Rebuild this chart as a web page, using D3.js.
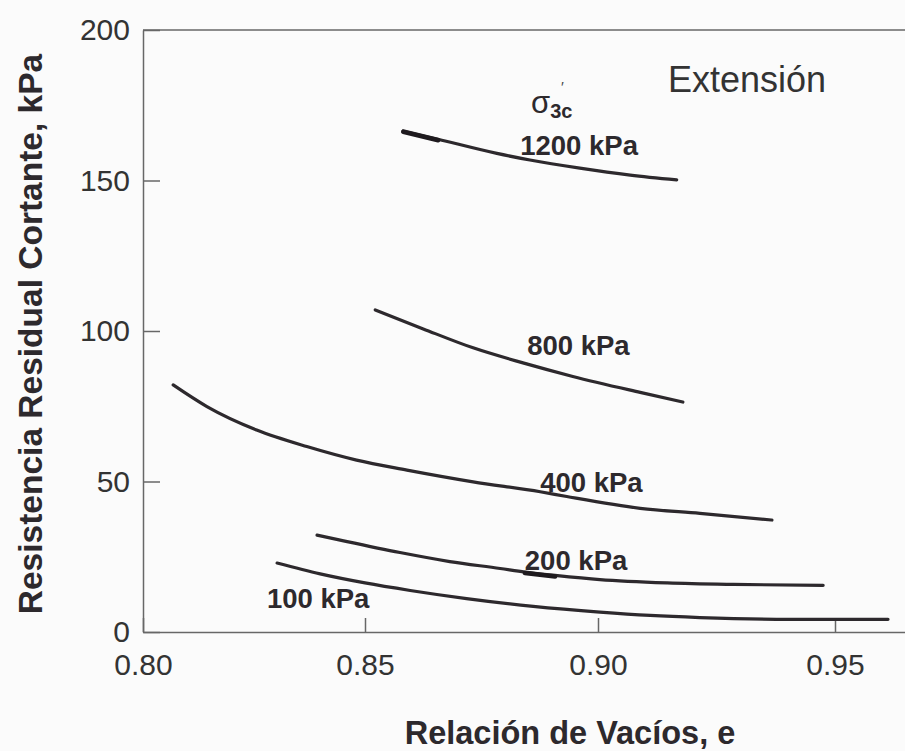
<!DOCTYPE html>
<html>
<head>
<meta charset="utf-8">
<script src="https://cdn.jsdelivr.net/npm/d3@7"></script>
<style>
  html, body { margin: 0; padding: 0; background: #fbfbfb; }
  svg { display: block; }
</style>
</head>
<body>
<svg id="chart" width="905" height="751"></svg>
<script>
// ---- data ----
const xTicks = [0.80, 0.85, 0.90, 0.95];
const yTicks = [0, 50, 100, 150, 200];
const xTickLabels = ["0.80", "0.85", "0.90", "0.95"];
const yTickLabels = ["0", "50", "100", "150", "200"];

const seriesNames = ["1200 kPa", "800 kPa", "400 kPa", "200 kPa", "100 kPa"];

const e1200 = [0.8582, 0.8657, 0.8783, 0.8854, 0.8961, 0.9068, 0.9166];
const v1200 = [166.5, 163.7, 159.0, 156.8, 154.1, 151.8, 150.2];

const e800 = [0.8522, 0.8625, 0.8732, 0.8839, 0.8946, 0.9089, 0.9179];
const v800 = [107.0, 100.7, 94.4, 89.4, 84.9, 79.6, 76.4];

const e400 = [0.8068, 0.8144, 0.8256, 0.8369, 0.8481, 0.8590, 0.8732, 0.8876, 0.8933, 0.9089, 0.9215, 0.9367];
const v400 = [82.1, 74.9, 67.1, 61.6, 57.1, 53.8, 49.9, 46.6, 45.0, 41.1, 39.4, 37.2];

const e200 = [0.8392, 0.8439, 0.8575, 0.8682, 0.8790, 0.8843, 0.8908, 0.9004, 0.9146, 0.9285, 0.9475];
const v200 = [32.2, 30.7, 26.4, 23.4, 21.1, 19.9, 18.8, 17.4, 16.3, 15.8, 15.5];

const e100 = [0.8302, 0.8399, 0.8500, 0.8597, 0.8718, 0.8861, 0.9004, 0.9110, 0.9215, 0.9405, 0.9612];
const v100 = [22.9, 19.3, 16.3, 13.8, 11.1, 8.5, 6.6, 5.5, 4.8, 4.2, 4.2];

// short over-drawn (darker) pieces of two curves: [series index, from point, to point]
const emphasis = [[0, 0, 1], [3, 5, 6]];

// label anchors in data units [e, value] for each curve label
const labelE = [0.8833, 0.8848, 0.8876, 0.8843, 0.8279];
const labelV = [158.5, 92.0, 46.5, 20.6, 8.0];

const xTitle = "Relación de Vacíos, e";
const yTitle = "Resistencia Residual Cortante, kPa";
const panelTitle = "Extensión";

// ---- layout ----
const svg = d3.select("#chart");
const ink = "#2d292d";
const axisInk = "#676767";
const sans = "Liberation Sans, Arial, sans-serif";

// the printed axis is slightly uneven; a polylinear scale follows its ticks
const x = d3.scaleLinear()
  .domain([0.80, 0.85, 0.90, 0.95, 0.965])
  .range([143, 365, 598, 835, 906]);
const y = d3.scaleLinear().domain([0, 200]).range([632, 30]);

const series = [
  { name: seriesNames[0], e: e1200, v: v1200 },
  { name: seriesNames[1], e: e800, v: v800 },
  { name: seriesNames[2], e: e400, v: v400 },
  { name: seriesNames[3], e: e200, v: v200 },
  { name: seriesNames[4], e: e100, v: v100 }
];

// top frame line
svg.append("line")
  .attr("x1", x(0.80)).attr("x2", x(0.965))
  .attr("y1", y(200)).attr("y2", y(200))
  .attr("stroke", axisInk).attr("stroke-width", 1.5);

// x axis
const gx = svg.append("g")
  .attr("transform", `translate(0,${y(0)})`)
  .call(d3.axisBottom(x).tickValues(xTicks)
    .tickFormat((d, i) => xTickLabels[i])
    .tickSizeInner(-14).tickSizeOuter(0).tickPadding(22));
gx.select(".domain").attr("stroke", axisInk).attr("stroke-width", 1.5);
gx.selectAll(".tick line").attr("stroke", axisInk).attr("stroke-width", 1.5);
gx.selectAll(".tick text")
  .attr("font-family", sans)
  .attr("font-size", 30).attr("fill", "#333");

// y axis
const gy = svg.append("g")
  .attr("transform", `translate(${x(0.80)},0)`)
  .call(d3.axisLeft(y).tickValues(yTicks)
    .tickFormat((d, i) => yTickLabels[i])
    .tickSizeInner(-17).tickSizeOuter(0).tickPadding(13));
gy.select(".domain").attr("stroke", axisInk).attr("stroke-width", 1.5);
gy.selectAll(".tick line").attr("stroke", axisInk).attr("stroke-width", 1.5);
gy.selectAll(".tick text")
  .attr("font-family", sans)
  .attr("font-size", 30).attr("fill", "#333");

// curves
const line = d3.line()
  .x(d => x(d[0])).y(d => y(d[1]))
  .curve(d3.curveMonotoneX);

series.forEach(s => {
  const pts = s.e.map((e, i) => [e, s.v[i]]);
  svg.append("path")
    .attr("d", line(pts))
    .attr("fill", "none")
    .attr("stroke", ink)
    .attr("stroke-width", 3.2)
    .attr("stroke-linecap", "round");
});

emphasis.forEach(([si, a, b]) => {
  const s = series[si];
  const pts = s.e.slice(a, b + 1).map((e, i) => [e, s.v[a + i]]);
  svg.append("path")
    .attr("d", d3.line().x(d => x(d[0])).y(d => y(d[1]) + 1)(pts))
    .attr("fill", "none")
    .attr("stroke", "#1e1a1e")
    .attr("stroke-width", 4.5)
    .attr("stroke-linecap", "round");
});

// curve labels
seriesNames.forEach((name, i) => {
  svg.append("text")
    .attr("x", x(labelE[i])).attr("y", y(labelV[i]))
    .attr("font-family", sans)
    .attr("font-weight", "bold")
    .attr("font-size", 27.5)
    .attr("fill", ink)
    .text(name);
});

// sigma'3c label
const sig = svg.append("text")
  .attr("x", 531).attr("y", 113)
  .attr("font-family", sans)
  .attr("font-size", 31)
  .attr("fill", ink);
sig.append("tspan").text("σ");
sig.append("tspan")
  .attr("font-weight", "bold")
  .attr("font-size", 20)
  .attr("dy", 5).text("3c");
svg.append("text")
  .attr("x", 561).attr("y", 92)
  .attr("font-family", sans)
  .attr("font-size", 15)
  .attr("fill", "#444")
  .text("′");

// panel title
svg.append("text")
  .attr("x", 668).attr("y", 92)
  .attr("font-family", sans)
  .attr("font-size", 36)
  .attr("fill", "#333")
  .text(panelTitle);

// axis titles
svg.append("text")
  .attr("x", 570).attr("y", 744)
  .attr("text-anchor", "middle")
  .attr("font-family", sans)
  .attr("font-weight", "bold")
  .attr("font-size", 32.5)
  .attr("fill", ink)
  .text(xTitle);

svg.append("text")
  .attr("transform", "translate(42,334) rotate(-90)")
  .attr("text-anchor", "middle")
  .attr("font-family", sans)
  .attr("font-weight", "bold")
  .attr("font-size", 33.5)
  .attr("fill", ink)
  .text(yTitle);
</script>
</body>
</html>
